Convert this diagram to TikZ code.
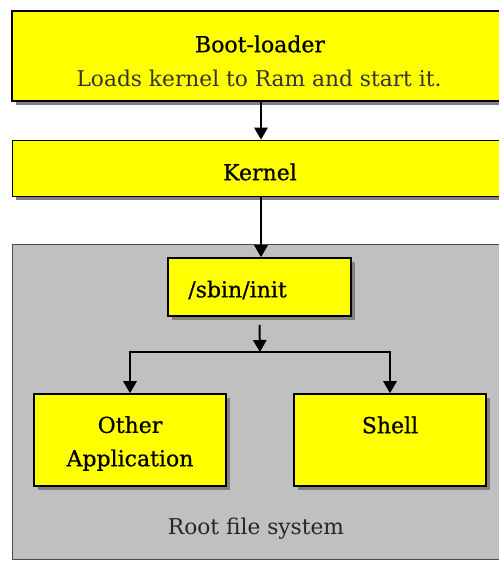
\documentclass[tikz,border=0pt]{standalone}
\usepackage{fontspec}
\setmainfont{DejaVu Serif}
\newfontfamily\titlefont{DejaVu Serif}[FakeBold=0.7]
\usepackage{tikz}
\usetikzlibrary{graphs}
\usetikzlibrary{arrows.meta}
\usetikzlibrary{shadows}
\definecolor{boxyellow}{HTML}{FFFF00}
\definecolor{rootgray}{HTML}{C0C0C0}
\definecolor{shadowgray}{HTML}{808080}
\tikzset{
    stagebox/.style={draw=black, fill=boxyellow, line width=1.2pt,
        drop shadow={shadow xshift=3pt, shadow yshift=-3pt, fill=shadowgray, opacity=1},
        inner sep=0pt},
    stagetext/.style={font=\titlefont\fontsize{16.5}{25}\selectfont, inner sep=0pt},
    notetext/.style={font=\fontsize{16.3}{19}\selectfont, text=black!80, inner sep=0pt},
    link/.style={line width=1.5pt, -{Triangle[length=9pt,width=10pt]}},
}

\begin{document}
\begin{tikzpicture}[x=0.75pt, y=-0.75pt]
        \useasboundingbox (0, 0) rectangle (499, 561);
        \clip (0, 0) rectangle (499, 561);

        % root file system
        \node[draw=black!70, fill=rootgray, line width=0.6pt, minimum width=373.5pt,
              minimum height=236.25pt] (rootfs) at (261, 401.5) {};
        \node[notetext, text=black!85] (rootlabel) at (256, 529) {Root file system};

        % boxes
        \node[stagebox, line width=1.5pt, minimum width=373.5pt, minimum height=67.5pt] (boot) at (261, 56) {};
        \node[stagebox, line width=0.6pt, minimum width=373.5pt, minimum height=42pt] (kernel) at (261, 168) {};
        \node[stagebox, minimum width=137.25pt, minimum height=43.5pt] (init) at (259.5, 287) {};
        \node[stagebox, minimum width=144pt, minimum height=69pt] (other) at (130, 440) {};
        \node[stagebox, minimum width=144pt, minimum height=69pt] (shell) at (390, 440) {};

        % texts
        \node[stagetext] (boottitle) at (260, 44) {Boot-loader};
        \node[notetext] (bootnote) at (259, 78) {Loads kernel to Ram and start it.};
        \node[stagetext] (kerneltitle) at (260, 172) {Kernel};
        \node[stagetext, anchor=west] (inittitle) at (188, 290) {/sbin/init};
        \node[stagetext, align=center] (othertitle) at (130, 443.5) {Other\\Application};
        \node[stagetext] (shelltitle) at (390, 425) {Shell};

        \coordinate (split) at (260, 352);

        \draw[link] (boot.south) -- (kernel.north -| boot.south);
        \draw[link] (kernel.south) -- (init.north -| kernel.south);
        \draw[link] ([yshift=-6pt]init.south) -- (split);
        \draw[link] (split) -| (other.north);
        \draw[link] (split) -| (shell.north);
    \end{tikzpicture}
\end{document}
